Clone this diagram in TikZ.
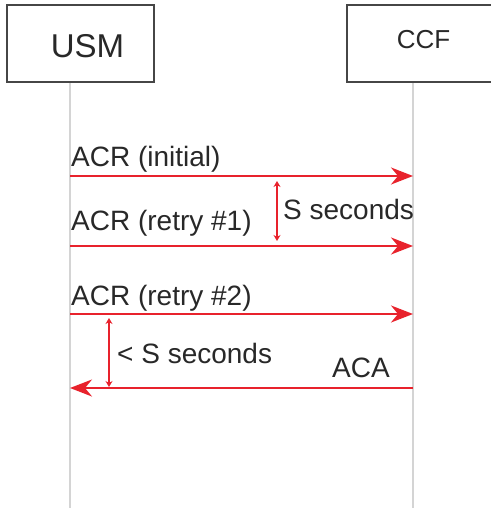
\documentclass[tikz,border=0pt]{standalone}
\usepackage{fontspec}
\setmainfont{Liberation Sans}
\usetikzlibrary{arrows.meta}
\definecolor{msgred}{RGB}{232,34,44}
\definecolor{lifegray}{RGB}{212,212,212}
\definecolor{boxgray}{RGB}{70,70,70}
\definecolor{txtgray}{RGB}{40,40,40}
\begin{document}
\begin{tikzpicture}[x=1pt,y=-1pt,
  actor/.style={draw=boxgray,line width=2pt,fill=white,inner sep=0pt},
  lifeline/.style={draw=lifegray,line width=2.5pt},
  msg/.style={draw=msgred,line width=2pt,-{Stealth[length=22pt,width=17pt,inset=7pt]}},
  span/.style={draw=msgred,line width=1.5pt,{Stealth[length=6pt,width=7pt]}-{Stealth[length=6pt,width=7pt]}},
  lbl/.style={text=txtgray,font=\fontsize{28}{30}\selectfont,inner sep=0pt,anchor=base west}]
\useasboundingbox (0,0) rectangle (490,508);
% lifelines
\coordinate (utop) at (70,82);
\coordinate (ubot) at (70,510);
\coordinate (ctop) at (413,82);
\coordinate (cbot) at (413,510);
\draw[lifeline] (utop) -- (ubot);
\draw[lifeline] (ctop) -- (cbot);
% actor boxes
\draw[actor] (7,5) rectangle (154,82);
\draw[actor] (347,5) rectangle (496,82);
\node[text=txtgray,font=\fontsize{33}{36}\selectfont,inner sep=0pt] (usm) at (87.5,46) {USM};
\node[text=txtgray,font=\fontsize{26}{28}\selectfont,inner sep=0pt] (ccf) at (423.5,39.5) {CCF};
% message points
\coordinate (u1) at (70,176);
\coordinate (c1) at (413,176);
\coordinate (u2) at (70,246);
\coordinate (c2) at (413,246);
\coordinate (u3) at (70,314);
\coordinate (c3) at (413,314);
\coordinate (u4) at (70,388);
\coordinate (c4) at (413,388);
\draw[msg] (u1) -- (c1);
\draw[msg] (u2) -- (c2);
\draw[msg] (u3) -- (c3);
\draw[msg] (c4) -- (u4);
% labels
\node[lbl] (l1) at (71,166) {ACR (initial)};
\node[lbl] (l2) at (71,230) {ACR (retry \#1)};
\node[lbl] (l3) at (71,305) {ACR (retry \#2)};
\node[lbl] (l4) at (283,219) {S seconds};
\node[lbl] (l5) at (117,363) {< S seconds};
\node[lbl,anchor=base east] (l6) at (390,377) {ACA};
% spans
\coordinate (s1a) at (277,181);
\coordinate (s1b) at (277,241);
\coordinate (s2a) at (109,318);
\coordinate (s2b) at (109,387);
\draw[span] (s1a) -- (s1b);
\draw[span] (s2a) -- (s2b);
\end{tikzpicture}
\end{document}
